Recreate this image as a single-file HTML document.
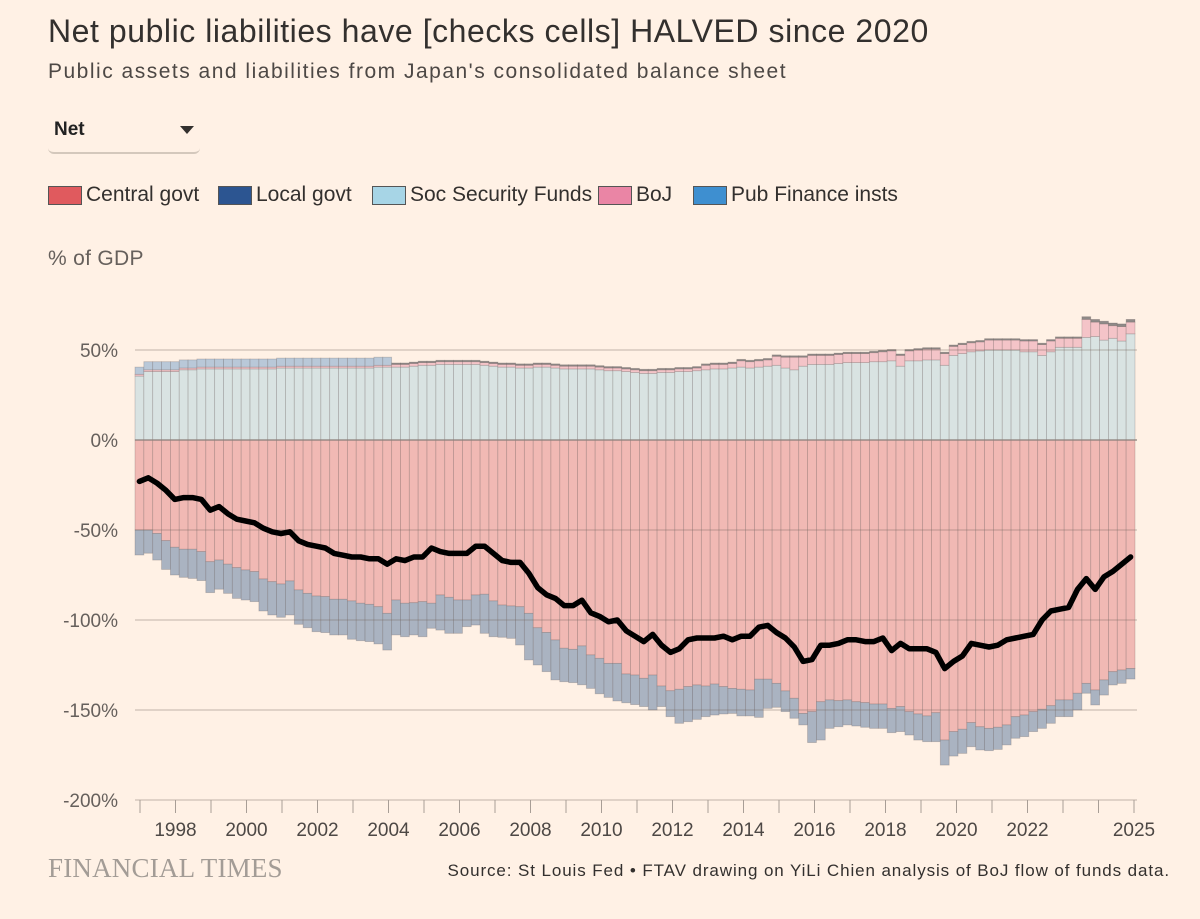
<!DOCTYPE html>
<html><head><meta charset="utf-8">
<style>
body{margin:0;background:#fff1e5;font-family:"Liberation Sans",sans-serif;color:#33302e;}
#wrap{position:relative;width:1200px;height:919px;overflow:hidden;background:#fff1e5;}
.t{position:absolute;white-space:nowrap;}
.lg{position:absolute;top:183px;display:flex;align-items:center;font-size:21px;letter-spacing:0px;white-space:nowrap;}
.sw{display:inline-block;width:32px;height:17px;border:1px solid #555;margin-right:4px;}
</style></head><body>
<div id="wrap">
<div class="t" style="left:48px;top:13px;font-size:32px;letter-spacing:0.55px;">Net public liabilities have [checks cells] HALVED since 2020</div>
<div class="t" style="left:48px;top:60px;font-size:21px;letter-spacing:1.5px;color:#4d4845;">Public assets and liabilities from Japan's consolidated balance sheet</div>
<div style="position:absolute;left:48px;top:112px;width:152px;height:40px;border-bottom:2px solid #d4c8bc;border-radius:0 0 6px 6px;">
  <span class="t" style="left:6px;top:7px;font-size:19px;font-weight:bold;color:#222;">Net</span>
  <span style="position:absolute;left:132px;top:14px;width:0;height:0;border-left:7px solid transparent;border-right:7px solid transparent;border-top:8px solid #33302e;"></span>
</div>
<span class="lg" style="left:48px;"><span class="sw" style="background:#e05a5e;"></span>Central govt</span>
<span class="lg" style="left:218px;"><span class="sw" style="background:#2c5591;"></span>Local govt</span>
<span class="lg" style="left:372px;"><span class="sw" style="background:#a7d5e6;"></span>Soc Security Funds</span>
<span class="lg" style="left:598px;"><span class="sw" style="background:#ea85a5;"></span>BoJ</span>
<span class="lg" style="left:693px;"><span class="sw" style="background:#3e8fd0;"></span>Pub Finance insts</span>
<div class="t" style="left:48px;top:247px;font-size:21px;letter-spacing:0.3px;color:#66605c;">% of GDP</div>
<svg id="chart" width="1200" height="919" style="position:absolute;left:0;top:0;"></svg>
<div class="t" style="left:48px;top:853px;font-family:'Liberation Serif',serif;font-size:27px;color:#a39c96;letter-spacing:0.2px;">FINANCIAL TIMES</div>
<div class="t" style="right:30px;top:861px;font-size:17px;letter-spacing:0.9px;color:#33302e;">Source: St Louis Fed • FTAV drawing on YiLi Chien analysis of BoJ flow of funds data.</div>
</div>
<script>
const startYear = 1997;
const yTicks = [50, 0, -50, -100, -150, -200];
const yTickLabels = ["50%", "0%", "-50%", "-100%", "-150%", "-200%"];
const xLabelYears = [1998,2000,2002,2004,2006,2008,2010,2012,2014,2016,2018,2020,2022,2025];
const socSec = [35.5,38,38,38, 38,39,39,39.5, 39.5,39.5,39.5,39.5, 39.5,39.5,39.5,39.5, 40,40,40,40, 40,40,40,40, 40,40,40,40.5, 40.5,40.5,40.5,41, 41.5,41.5,42,42, 42,42,42,41.5, 41,40.5,40.5,40, 40,40.5,40.5,40, 39.5,39.5,39.5,39.5, 39,38.5,38.5,38, 37.5,37,37,37.5, 37.5,38,38,38.5, 39,39.5,39.5,40, 40.5,40,40.5,41, 41.5,40,39,41, 42,42,42,42.5, 43,43,43,43.5, 43.5,44,41,44, 44,44.5,44.5,41.5, 47,48,49,49.5, 50,50,50,50, 49,49,47,49, 51.5,51.5,51.5,57, 57.5,55.5,56.5,55, 59];
const boj = [1,1,1,1, 1,1,1,1, 1,1,1,1, 1,1,1,1, 1,1,1,1, 1,1,1,1, 1,1,1,1, 1,1.5,1.5,1.5, 1.5,1.5,1.5,1.5, 1.5,1.5,1.5,1.5, 1.5,1.5,1.5,1.5, 1.5,1.5,1.5,1.5, 1.5,1.5,1.5,1.5, 1.5,1.5,1.5,1.5, 1.5,1.5,1.5,1.5, 1.5,1.5,1.5,1.5, 2.5,2.5,2.5,2.5, 3.5,3.5,3.5,3.5, 5,6,7,5, 5,5,5,5, 5,5,5,5, 5.5,5.5,6,5.5, 6,6,6,6.5, 5,5,5,5, 5.5,5.5,5.5,5.5, 6,6,6,6, 5,5,5,10, 8,9,7,8, 6.5];
const pubFinPos = [4,4.5,4.5,4.5, 4.5,4.5,4.5,4.5, 4.5,4.5,4.5,4.5, 4.5,4.5,4.5,4.5, 4.5,4.5,4.5,4.5, 4.5,4.5,4.5,4.5, 4.5,4.5,4.5,4.5, 4.5,0.8,0.8,0.8, 0.8,0.8,0.8,0.8, 0.8,0.8,0.8,0.8, 0.8,0.8,0.8,0.8, 0.8,0.8,0.8,0.8, 0.8,0.8,0.8,0.8, 0.8,0.8,0.8,0.8, 0.8,0.8,0.8,0.8, 0.8,0.8,0.8,0.8, 0.8,0.8,0.8,0.8, 0.8,0.8,0.8,0.8, 0.8,0.8,0.8,0.8, 0.8,0.8,0.8,0.8, 0.8,0.8,0.8,0.8, 0.8,0.8,0.8,0.8, 0.8,0.8,0.8,0.8, 0.8,0.8,0.8,0.8, 0.8,0.8,0.8,0.8, 0.8,0.8,0.8,0.8, 0.8,0.8,0.8,1.5, 1.5,1.5,1.5,1.5, 1.5];
const centralBottom = [-50,-50,-51.9,-55.9,-59.6,-60.7,-60.7,-62, -67.6,-66.7,-69,-70.9,-72.2,-73.1,-77.2,-78.7, -80,-78.3,-83.3,-85.2,-86.7,-87,-88.5,-88.5, -89.4,-90.7,-91.3,-92.6,-96.3,-88.9,-90.7,-90.4, -89.8,-90.7,-86.1,-87.4,-88.9,-88.9,-86.1,-85.7, -89.4,-91.7,-92.2,-92.6,-96.3,-104.3,-106.9,-111.1, -115.7,-116.3,-114.4,-119.4,-121.3,-124.1,-124.1,-130, -130.6,-132.4,-130.6,-136.7,-139.3,-138.5,-137,-136.1, -136.7,-135.6,-137,-138,-138.5,-138.9,-132.9,-132.9, -135.2,-139.4,-143.5,-151.9,-150.9,-145.4,-144.4,-144.8, -144.4,-145.4,-145.9,-146.7,-146.7,-149.1,-148.1,-150.9, -152.2,-153.3,-151.5,-166.7,-162,-160.7,-157,-159.3, -160.2,-159.6,-158.3,-153.7,-152.8,-150.9,-149.6,-147.6, -144.4,-144.4,-140.7,-135.2,-138.9,-133.3,-128.7,-127.8, -126.9];
const localBottom = [-63.9,-62.9,-66.7,-71.9,-75,-76.3,-76.9,-78.1, -84.8,-82.9,-85.2,-88,-88.9,-89.8,-95,-97.2, -98.5,-97.2,-102.4,-104.3,-106.5,-107,-108.3,-108.3, -110.7,-111.5,-112,-113.3,-116.7,-108.3,-109.3,-108.3, -109.3,-104.6,-105.6,-107.4,-107.4,-103.7,-102.8,-107.4, -109.3,-109.6,-110.2,-113.9,-122.2,-125,-128.7,-133.3, -134.3,-134.8,-136,-138,-141,-143,-145,-146, -147,-148.1,-150,-148.1,-153.7,-157.4,-156.5,-155.2, -153.7,-152.8,-152.2,-151.9,-153.3,-153.3,-154.1,-149.1, -148.5,-150.9,-154.6,-158.3,-168.1,-166.7,-160.2,-159.3, -158.3,-158.9,-159.6,-160.2,-160.2,-162.6,-162,-163.9, -166.7,-167.6,-167.6,-180.6,-175.6,-174.1,-170.4,-172.2, -172.6,-171.9,-169.4,-165.7,-164.8,-162,-160.2,-157.4, -153.7,-153.7,-150,-140.7,-147.2,-141.7,-136.1,-135.2, -132.8];
const netLine = [-23,-21,-24,-28,-33,-32,-32,-33,-39,-37,-41,-44,-45,-46,-49,-51,-52,-51,-56,-58,-59,-60,-63,-64,-65,-65,-66,-66,-69,-66,-67,-65,-65,-60,-62,-63,-63,-63,-59,-59,-63,-67,-68,-68,-74,-82,-86,-88,-92,-92,-89,-96,-98,-101,-100,-106,-109,-112,-108,-114,-118,-116,-111,-110,-110,-110,-109,-111,-109,-109,-104,-103,-107,-110,-115,-123,-122,-114,-114,-113,-111,-111,-112,-112,-110,-117,-113,-116,-116,-116,-118,-127,-123,-120,-113,-114,-115,-114,-111,-110,-109,-108,-100,-95,-94,-93,-83,-77,-83,-76,-73,-69,-65];

const NS = "http://www.w3.org/2000/svg";
const svg = document.getElementById("chart");
const plotLeft = 135, plotRight = 1135;
const n = socSec.length;
const bw = (plotRight - plotLeft) / n;
function yScale(v){ return 440 - v * 1.8; }
function xBar(i){ return plotLeft + i * bw; }
function xYear(yr){ return 140 + (yr - startYear) * 35.5; }
function mk(tag, attrs){ const e = document.createElementNS(NS, tag); for (const k in attrs) e.setAttribute(k, attrs[k]); svg.appendChild(e); return e; }

yTicks.forEach((v, k) => {
  const t = mk("text", {x:118, y:yScale(v)+7, "text-anchor":"end", "font-size":"19", fill:"#66605c", "font-family":"Liberation Sans, sans-serif"});
  t.textContent = yTickLabels[k];
  
  
});

function rect(x, y0, y1, fill, name){
  const top = Math.min(yScale(y0), yScale(y1)), h = Math.abs(yScale(y0) - yScale(y1));
  const r = mk("rect", {x:x, y:top, width:bw, height:h, fill:fill, stroke:"rgba(90,80,80,0.28)", "stroke-width":"0.8"});
  
  
}
for (let i = 0; i < n; i++) {
  const x = xBar(i);
  rect(x, 0, socSec[i], "#d9e3e2", "bar-soc-security");
  rect(x, socSec[i], socSec[i] + boj[i], "#f4c4c8", "bar-boj");
  rect(x, socSec[i] + boj[i], socSec[i] + boj[i] + pubFinPos[i], i < 29 ? "#b9c8d8" : "#8f8a88", "bar-pub-finance");
  rect(x, 0, centralBottom[i], "#f1b9b4", "bar-central-govt");
  rect(x, centralBottom[i], localBottom[i], "#aab3c1", "bar-local-govt");
}

yTicks.forEach(v => {
  const g = mk("line", {x1:135, x2:1137, y1:yScale(v), y2:yScale(v), stroke: v===0 ? "#8a7f7a" : "rgba(120,105,95,0.45)", "stroke-width": v===0 ? 1.2 : 1});
  
  
});

for (let yr = startYear; yr <= 2025; yr++) {
  const tk = mk("line", {x1:xYear(yr), x2:xYear(yr), y1:800, y2:813, stroke:"#a89e96", "stroke-width":1});
  
  
}
xLabelYears.forEach(yr => {
  const t = mk("text", {x:xYear(yr), y:836, "text-anchor":"middle", "font-size":"19", fill:"#4d4845", "font-family":"Liberation Sans, sans-serif"});
  t.textContent = String(yr);
  
  
});

let d = "";
netLine.forEach((v, i) => { d += (i ? "L" : "M") + (xBar(i) + bw/2).toFixed(1) + "," + yScale(v).toFixed(1); });
const p = mk("path", {d:d, fill:"none", stroke:"#000", "stroke-width":"5.5", "stroke-linejoin":"round", "stroke-linecap":"round"});


</script>
</body></html>
